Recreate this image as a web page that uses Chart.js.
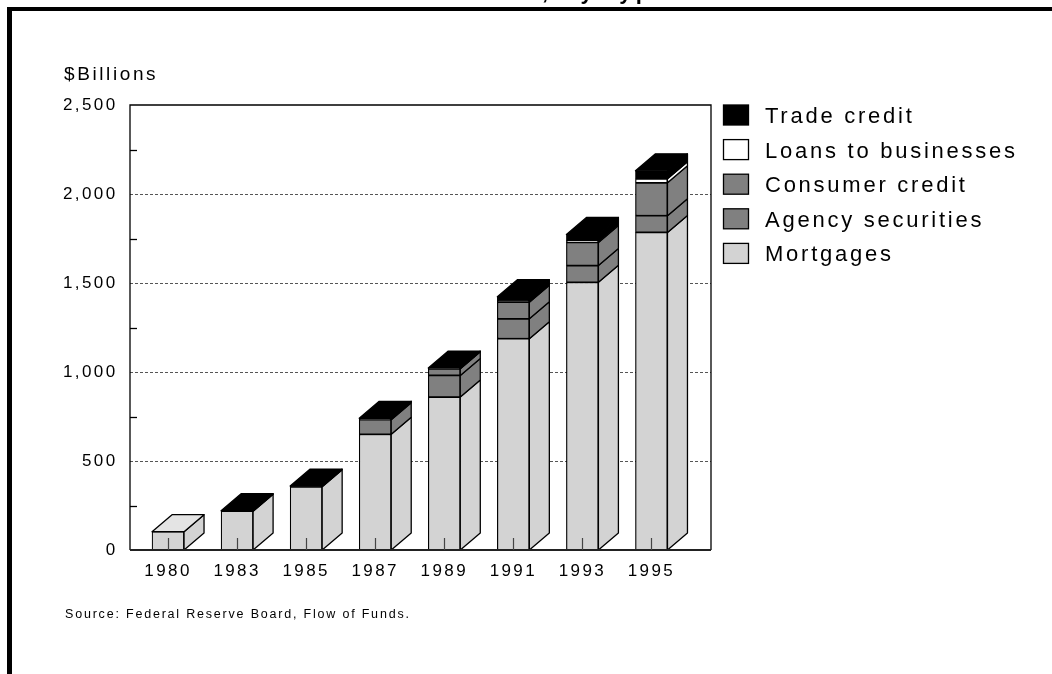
<!DOCTYPE html>
<html>
<head>
<meta charset="utf-8">
<script src="https://cdn.jsdelivr.net/npm/chart.js@4.4.0/dist/chart.umd.min.js"></script>
<style>
  html, body { margin: 0; padding: 0; background: #fff; overflow: hidden; }
  #frame { position: absolute; left: 7px; top: 7px; width: 1045px; height: 667px;
           border-top: 4px solid #000; border-left: 5px solid #000; box-sizing: border-box; }
  canvas { position: absolute; left: 0; top: 0; }
</style>
</head>
<body>
<div id="frame"></div>
<canvas id="chart" width="1052" height="674"></canvas>
<script>
// values in $ billions
const years = ["1980", "1983", "1985", "1987", "1989", "1991", "1993", "1995"];
const mortgages = [103, 218, 355, 650, 859, 1187, 1504, 1784];
const agency    = [0, 0, 0, 82, 122, 112, 94, 94];
const consumer  = [0, 0, 0, 5, 37, 93, 130, 185];
const loans     = [0, 0, 0, 0, 2, 3, 10, 22];
const trade     = [0, 3, 4, 3, 2, 28, 35, 45];
const yTicks = [0, 500, 1000, 1500, 2000, 2500];

const FONT = '"Liberation Sans", Arial, Helvetica, sans-serif';
const DX = 20, DY = -17;   // depth of the boxes

// bottom -> top
const series = [
  { label: "Mortgages",           data: mortgages, color: "#d3d3d3", top: "#e4e4e4" },
  { label: "Agency securities",   data: agency,    color: "#808080", top: "#808080" },
  { label: "Consumer credit",     data: consumer,  color: "#808080", top: "#808080" },
  { label: "Loans to businesses", data: loans,     color: "#ffffff", top: "#ffffff" },
  { label: "Trade credit",        data: trade,     color: "#000000", top: "#000000" }
];

function poly(ctx, pts, fill) {
  ctx.beginPath();
  ctx.moveTo(pts[0][0], pts[0][1]);
  for (let k = 1; k < pts.length; k++) ctx.lineTo(pts[k][0], pts[k][1]);
  ctx.closePath();
  ctx.fillStyle = fill;
  ctx.fill();
  ctx.stroke();
}

const boxes3d = {
  id: "boxes3d",
  beforeDraw(chart) {
    chart.ctx.letterSpacing = "2.4px";
  },
  beforeDatasetsDraw(chart) {
    const { ctx, chartArea: a, scales: { y } } = chart;
    const L = a.left - 3.5, R = a.right + 25;
    ctx.save();
    // dashed grid
    ctx.strokeStyle = "#555";
    ctx.lineWidth = 1;
    ctx.setLineDash([3, 2]);
    yTicks.slice(1, -1).forEach(v => {
      const py = Math.round(y.getPixelForValue(v)) + 0.5;
      ctx.beginPath(); ctx.moveTo(L, py); ctx.lineTo(R, py); ctx.stroke();
    });
    ctx.setLineDash([]);
    // frame
    ctx.strokeStyle = "#000";
    ctx.lineWidth = 1.3;
    ctx.beginPath();
    ctx.moveTo(L, a.bottom); ctx.lineTo(L, a.top); ctx.lineTo(R, a.top); ctx.lineTo(R, a.bottom);
    ctx.stroke();
    // minor ticks between gridlines
    for (let k = 0; k < yTicks.length - 1; k++) {
      const py = Math.round(y.getPixelForValue((yTicks[k] + yTicks[k + 1]) / 2)) + 0.5;
      ctx.beginPath(); ctx.moveTo(L, py); ctx.lineTo(L + 7, py); ctx.stroke();
    }
    ctx.restore();
  },
  afterDatasetsDraw(chart) {
    const { ctx, chartArea: a } = chart;
    const L = a.left - 3.5, R = a.right + 25;
    ctx.save();
    ctx.strokeStyle = "#000";
    ctx.lineWidth = 1.3;
    ctx.lineJoin = "round";
    const metas = series.map((s, i) => chart.getDatasetMeta(i));
    years.forEach((yr, j) => {
      let topIdx = -1;
      series.forEach((s, i) => {
        if (!s.data[j]) return;
        topIdx = i;
        const el = metas[i].data[j];
        const xr = el.x + el.width / 2;
        const t = Math.min(el.y, el.base), b = Math.max(el.y, el.base);
        poly(ctx, [[xr, t], [xr + DX, t + DY], [xr + DX, b + DY], [xr, b]], s.color);
      });
      if (topIdx >= 0) {
        const el = metas[topIdx].data[j];
        const xl = el.x - el.width / 2, xr = el.x + el.width / 2;
        const t = Math.min(el.y, el.base);
        poly(ctx, [[xl, t], [xl + DX, t + DY], [xr + DX, t + DY], [xr, t]], series[topIdx].top);
      }
    });
    // base line and category ticks
    ctx.lineWidth = 1.8;
    ctx.strokeStyle = "#222";
    ctx.beginPath(); ctx.moveTo(L, a.bottom); ctx.lineTo(R, a.bottom); ctx.stroke();
    ctx.lineWidth = 1.2;
    ctx.strokeStyle = "#444";
    const xs = chart.scales.x;
    years.forEach((yr, j) => {
      const px = Math.round(xs.getPixelForValue(j)) + 0.5;
      ctx.beginPath(); ctx.moveTo(px, a.bottom); ctx.lineTo(px, a.bottom - 12); ctx.stroke();
    });
    ctx.restore();
  },
  afterDraw(chart) {
    const ctx = chart.ctx;
    ctx.save();
    ctx.fillStyle = "#000";
    ctx.textAlign = "left";
    // legend, top series first
    ctx.font = "22px " + FONT;
    ctx.letterSpacing = "2.75px";
    ctx.textBaseline = "middle";
    ctx.lineWidth = 1.3;
    ctx.strokeStyle = "#000";
    series.slice().reverse().forEach((s, k) => {
      const cy = 115 + k * 34.6;
      ctx.fillStyle = s.color;
      ctx.fillRect(723.5, cy - 10, 25, 20);
      ctx.strokeRect(723.5, cy - 10, 25, 20);
      ctx.fillStyle = "#000";
      ctx.fillText(s.label, 765, cy + 2);
    });
    // axis unit
    ctx.textBaseline = "alphabetic";
    ctx.font = "19px " + FONT;
    ctx.letterSpacing = "2.6px";
    ctx.fillText("$Billions", 64, 80);
    // source note
    ctx.font = "12.5px " + FONT;
    ctx.letterSpacing = "1.8px";
    ctx.fillText("Source: Federal Reserve Board, Flow of Funds.", 65, 618);
    // title, cut off by the top of the page
    ctx.font = "bold 22px " + FONT;
    ctx.letterSpacing = "4.3px";
    ctx.fillText(", by type", 542, -1);
    ctx.restore();
  }
};

new Chart(document.getElementById("chart"), {
  type: "bar",
  data: {
    labels: years,
    datasets: series.map(s => ({
      label: s.label,
      data: s.data,
      backgroundColor: s.color,
      borderColor: "#000",
      borderWidth: 1.2,
      borderSkipped: false,
      barThickness: 32
    }))
  },
  options: {
    responsive: false,
    animation: false,
    events: [],
    layout: { padding: { top: 105, right: 366, bottom: 84, left: 0 } },
    plugins: { legend: { display: false }, tooltip: { enabled: false }, title: { display: false } },
    scales: {
      x: {
        stacked: true,
        offset: true,
        grid: { display: false, drawTicks: false },
        border: { display: false },
        ticks: { color: "#000", font: { family: FONT, size: 17 }, padding: 11, maxRotation: 0, autoSkip: false },
        afterFit: s => { s.height = 40; }
      },
      y: {
        stacked: true,
        min: 0,
        max: 2500,
        grid: { display: false, drawTicks: false },
        border: { display: false },
        ticks: { color: "#000", font: { family: FONT, size: 17 }, padding: 16, stepSize: 500 },
        afterFit: s => { s.width = 133.5; }
      }
    }
  },
  plugins: [boxes3d]
});
</script>
</body>
</html>
